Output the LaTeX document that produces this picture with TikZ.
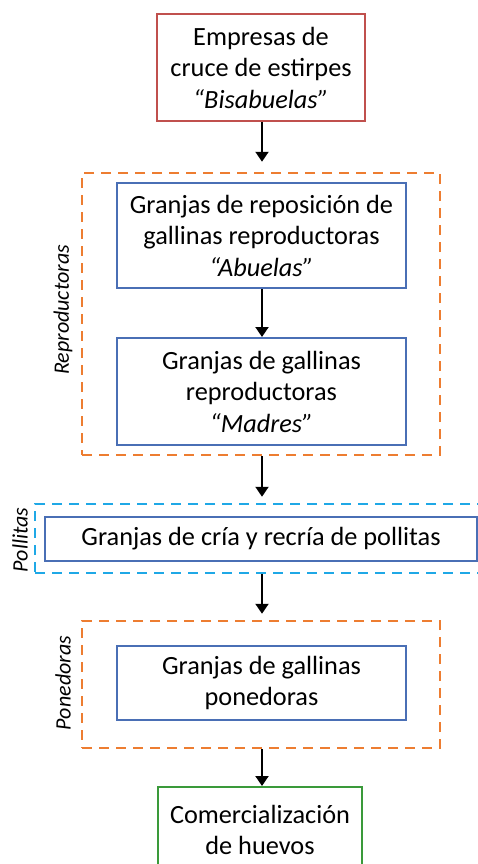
\documentclass[tikz,border=0pt]{standalone}
\usepackage{fontspec}
\setmainfont{Carlito}
\usetikzlibrary{arrows.meta}
\definecolor{boxred}{HTML}{C0504D}
\definecolor{boxblue}{HTML}{4A6FB5}
\definecolor{dashorange}{HTML}{ED7D31}
\definecolor{dashcyan}{HTML}{1FA8E6}
\definecolor{boxgreen}{HTML}{3A9A3A}
\tikzset{
  stagebox/.style={draw, line width=2pt, fill=white, align=center, inner sep=0pt,
    font=\fontsize{26.3}{31.5}\selectfont},
  groupbox/.style={draw, line width=2.5pt, dash pattern=on 10pt off 7pt},
  grouplabel/.style={rotate=90, font=\fontsize{22}{26}\selectfont\itshape},
  flow/.style={line width=2pt, -{Triangle[length=10pt,width=13pt]}}
}
\begin{document}
\begin{tikzpicture}[x=1pt,y=-1pt]
\useasboundingbox (0,0) rectangle (477,864);
% group frames
\node[groupbox, draw=dashorange, minimum width=358pt, minimum height=282pt] (grpR) at (261,314) {};
\node[groupbox, draw=dashcyan, minimum width=455pt, minimum height=69pt] (grpP) at (262.5,538.5) {};
\node[groupbox, draw=dashorange, minimum width=358pt, minimum height=127pt] (grpO) at (261,684.5) {};
% labels
\node[grouplabel] (lR) at (63,310) {Reproductoras};
\node[grouplabel] (lP) at (20,540) {Pollitas};
\node[grouplabel] (lO) at (63,683) {Ponedoras};
% stage boxes
\node[stagebox, draw=boxred, minimum width=208pt, minimum height=107pt] (bis) at (261,67.5)
  {Empresas de\\cruce de estirpes\\\textit{“Bisabuelas”}};
\node[stagebox, draw=boxblue, minimum width=289pt, minimum height=105pt] (abu) at (261.5,235.5)
  {Granjas de reposición de\\gallinas reproductoras\\\textit{“Abuelas”}};
\node[stagebox, draw=boxblue, minimum width=289pt, minimum height=107pt] (mad) at (261.5,391.5)
  {Granjas de gallinas\\reproductoras\\\textit{“Madres”}};
\node[stagebox, draw=boxblue, minimum width=432pt, minimum height=44pt] (pol) at (261,539)
  {Granjas de cría y recría de pollitas};
\node[stagebox, draw=boxblue, minimum width=289pt, minimum height=74pt] (pon) at (261.5,683)
  {Granjas de gallinas\\ponedoras};
\node[stagebox, draw=boxgreen, minimum width=204pt, minimum height=86pt] (com) at (260,830)
  {Comercialización\\de huevos};
% connectors
\draw[flow, shorten >=10pt] (bis.south -| 262,0) -- (grpR.north -| 262,0);
\draw[flow] (abu.south -| 262,0) -- (mad.north -| 262,0);
\draw[flow, shorten >=6pt] (grpR.south -| 262,0) -- (grpP.north -| 262,0);
\draw[flow, shorten >=6pt] (grpP.south -| 262,0) -- (grpO.north -| 262,0);
\draw[flow] (grpO.south -| 262,0) -- (com.north -| 262,0);
\end{tikzpicture}
\end{document}
